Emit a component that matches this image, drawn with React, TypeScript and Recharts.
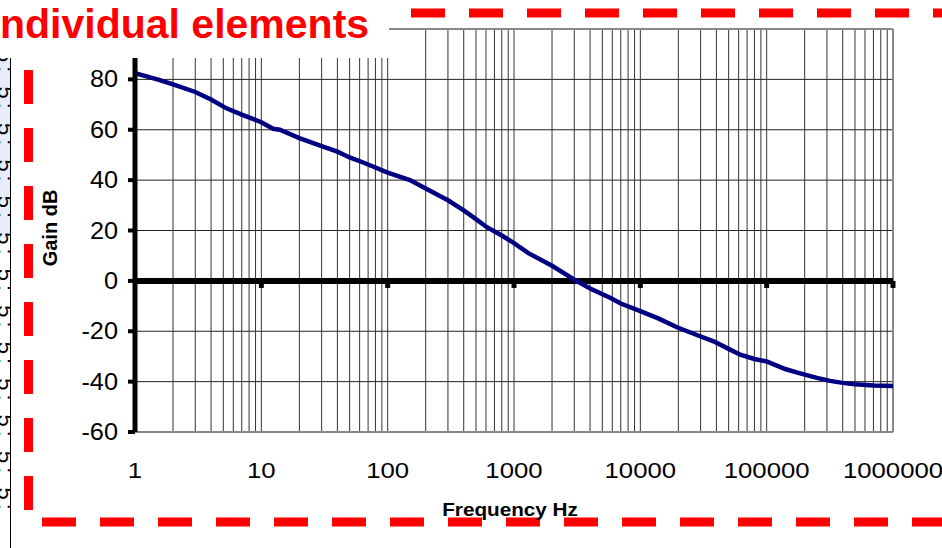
import { LineChart, Line, XAxis, YAxis, CartesianGrid, ReferenceLine } from 'recharts'

// Frequency (Hz) and gain (dB)
const FREQ = [
  1, 1.5, 2, 3, 4, 5.3, 7, 10, 12.4, 14, 20, 30, 40, 50, 64, 80, 100, 150, 200, 300, 400, 500, 610, 800,
  1000, 1300, 2000, 3000, 4000, 5760, 7000, 10000, 14000, 19500, 28000, 38000, 50000, 61800, 80000,
  100000, 140000, 184000, 250000, 318000, 400000, 500000, 700000, 1000000,
]
const GAIN = [
  82.5, 80, 78, 75, 72, 68.5, 66, 63, 60.4, 60, 56.7, 53.5, 51.3, 49, 47, 45, 43, 40, 36.7, 32, 28, 24.5, 21.3, 18,
  15, 11, 6, 0.5, -3, -6.7, -9, -12, -15, -18.4, -21.5, -24, -27, -29.3, -31,
  -32, -35, -36.7, -38.5, -39.7, -40.5, -41, -41.5, -41.7,
]

const DECADES = [1, 10, 100, 1000, 10000, 100000, 1000000]
const STEPS = [1, 2, 3, 4, 5, 6, 7, 8, 9]
const Y_TICKS = [-60, -40, -20, 0, 20, 40, 60, 80, 100]

const data = FREQ.map((f, i) => ({ f, gain: GAIN[i] }))
const gridFreqs = DECADES.slice(0, -1)
  .flatMap((d) => STEPS.map((s) => s * d))
  .filter((v) => v > 1)

const FONT = '"Liberation Sans", Arial, sans-serif'

function XTick({ x, y, payload }: any) {
  return (
    <g transform={`translate(${x},${y + 46})`}>
      <text textAnchor="middle" transform="scale(1.12,1)" fontSize={23} fontFamily={FONT} fill="#000">
        {payload.value}
      </text>
    </g>
  )
}

function YTick({ x, y, payload }: any) {
  if (payload.value === 100) return null
  return (
    <g transform={`translate(${x},${y + 8})`}>
      <text textAnchor="end" transform="scale(1.1,1)" fontSize={23} fontFamily={FONT} fill="#000">
        {payload.value}
      </text>
    </g>
  )
}

export default function App() {
  return (
    <div style={{ position: 'absolute', left: 0, top: 0, width: 942, height: 548, background: '#fff', overflow: 'hidden' }}>
      <LineChart width={942} height={548} data={data} margin={{ top: 29, right: 49, bottom: 76, left: 0 }}>
        <CartesianGrid vertical={false} stroke="#222" strokeWidth={1} />
        {gridFreqs.map((v) => (
          <ReferenceLine key={v} x={v} stroke="#333" strokeWidth={1} />
        ))}
        <ReferenceLine y={100} stroke="#888" strokeWidth={2} />
        <ReferenceLine x={1000000} stroke="#888" strokeWidth={2} />
        <XAxis
          dataKey="f"
          type="number"
          scale="log"
          domain={[1, 1000000]}
          ticks={DECADES}
          allowDataOverflow
          height={40}
          tickSize={0}
          tickMargin={0}
          axisLine={{ stroke: '#888', strokeWidth: 2 }}
          tickLine={false}
          tick={<XTick />}
          interval={0}
        />
        <YAxis
          type="number"
          domain={[-60, 100]}
          ticks={Y_TICKS}
          width={135}
          tickSize={7}
          tickMargin={10}
          axisLine={{ stroke: '#000', strokeWidth: 5 }}
          tickLine={{ stroke: '#000', strokeWidth: 4 }}
          tick={<YTick />}
          interval={0}
        />
        <ReferenceLine y={0} stroke="#000" strokeWidth={6} />
        {DECADES.slice(1).map((d) => (
          <ReferenceLine
            key={'t' + d}
            segment={[{ x: d, y: 0 }, { x: d, y: -2.8 }]}
            stroke="#000"
            strokeWidth={5}
          />
        ))}
        <Line
          dataKey="gain"
          type="linear"
          stroke="#000080"
          strokeWidth={4.5}
          dot={false}
          isAnimationActive={false}
        />
      </LineChart>

      <svg width={942} height={548} style={{ position: 'absolute', left: 0, top: 0, pointerEvents: 'none' }}>
        <defs>
          <clipPath id="strip">
            <rect x={0} y={58} width={10} height={490} />
          </clipPath>
        </defs>
        {/* cut-off spreadsheet column on the left */}
        <rect x={0} y={58} width={10} height={180} fill="#e8ecf8" />
        <g clipPath="url(#strip)">
          <text transform="translate(-2,50) rotate(90)" fontSize={22} fontFamily={FONT} fill="#000" letterSpacing={4}>
            {'5:  5:  5:  5:  5:  5:  5:  5:  5:  5:  5:  5:  5:'}
          </text>
        </g>
        <line x1={10.5} y1={58} x2={10.5} y2={548} stroke="#000" strokeWidth={1} />

        {/* red dashed frame */}
        <line x1={28.5} y1={12} x2={28.5} y2={522} stroke="#f00" strokeWidth={9} strokeDasharray="34 24" />
        <line x1={42} y1={522} x2={960} y2={522} stroke="#f00" strokeWidth={9} strokeDasharray="34 24" />
        <line x1={411} y1={13} x2={960} y2={13} stroke="#f00" strokeWidth={9} strokeDasharray="34 24" />

        <g transform="translate(510,516)">
          <text textAnchor="middle" transform="scale(1.15,1)" fontSize={18} fontWeight="bold" fontFamily={FONT} fill="#000">
            Frequency Hz
          </text>
        </g>
        <text transform="translate(57,228) rotate(-90)" textAnchor="middle" fontSize={20} fontWeight="bold" fontFamily={FONT} fill="#000">
          Gain dB
        </text>

        {/* title box */}
        <rect x={0} y={0} width={389} height={58} fill="#fff" />
        <text x={0} y={38} fontSize={41} fontWeight="bold" fontFamily={FONT} fill="#f00">
          ndividual elements
        </text>
      </svg>
    </div>
  )
}
